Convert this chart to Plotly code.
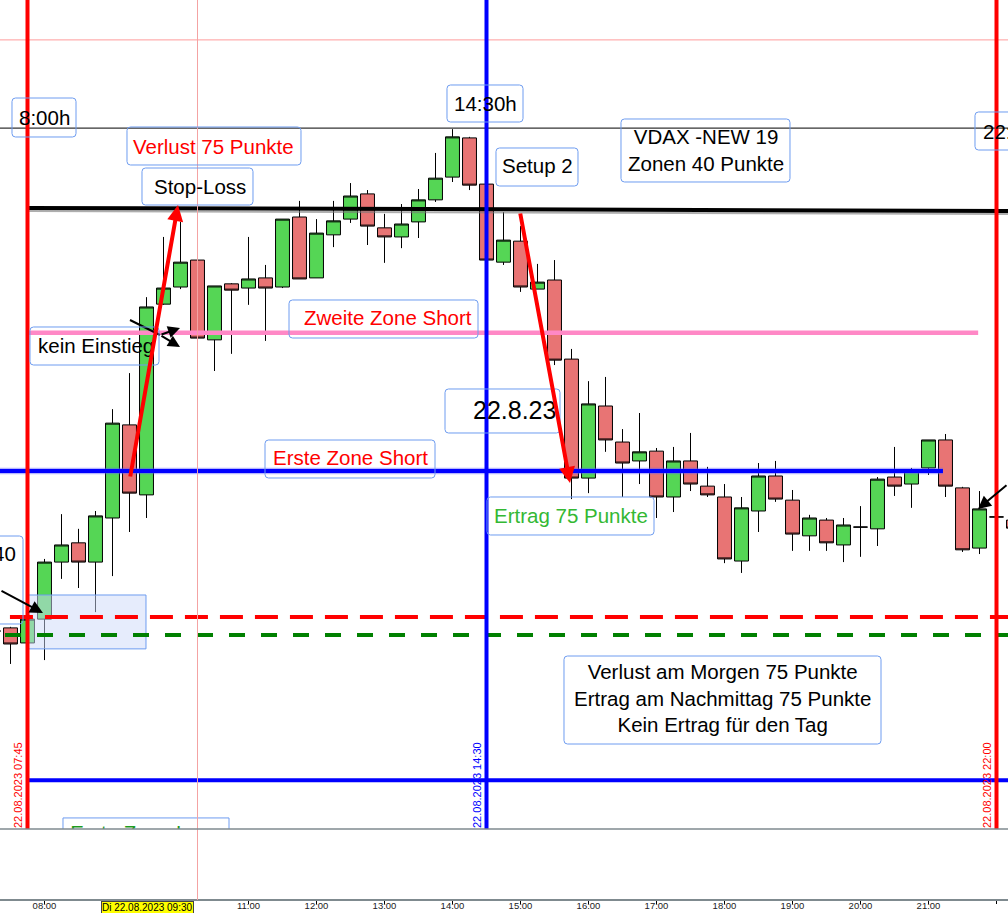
import plotly.graph_objects as go
import pandas as pd

# ---------------- data (15-minute candles, 22.08.2023) ----------------
times = list(pd.date_range("2023-08-22 07:15", periods=61, freq="15min"))

open_ = [15879.7, 15880.6, 15876.3, 15883.1, 15899.4, 15904.9, 15899.4, 15912.0, 15938.6, 15918.6,
         15973.1, 15978.0, 15985.7, 15962.9, 15978.9, 15977.7, 15980.6, 15978.0, 15998.0, 15980.6,
         15992.9, 15997.4, 16004.6, 15994.9, 15992.3, 15996.6, 16002.9, 16009.4, 16020.6, 16007.4,
         15985.1, 15991.1, 15977.4, 15980.0, 15957.4, 15923.4, 15944.0, 15933.7, 15928.3, 15931.1,
         15918.0, 15928.3, 15921.1, 15918.0, 15899.7, 15914.0, 15924.0, 15917.1, 15906.9, 15911.4,
         15904.3, 15909.4, 15908.9, 15923.7, 15921.7, 15926.3, 15934.3, 15920.6, 15903.4, 15912.3,
         15911.4]
high_ = [15879.7, 15880.9, 15883.1, 15900.3, 15913.1, 15908.9, 15914.0, 15943.1, 15953.4, 15975.1,
         15992.3, 15996.6, 15990.9, 15978.3, 15979.1, 15992.3, 15984.3, 15997.4, 16002.6, 15997.4,
         16002.6, 16007.7, 16005.7, 15998.9, 16001.7, 16006.0, 16016.3, 16023.1, 16020.9, 16007.4,
         15999.4, 15995.4, 15984.6, 15985.7, 15960.3, 15951.1, 15952.3, 15937.4, 15942.0, 15932.0,
         15932.3, 15936.3, 15926.6, 15921.7, 15918.0, 15927.7, 15928.3, 15920.0, 15912.9, 15912.0,
         15912.0, 15915.4, 15923.7, 15932.3, 15926.3, 15934.3, 15936.0, 15920.9, 15919.7, 15912.3,
         15912.0]
low_ = [15879.7, 15870.3, 15875.7, 15871.4, 15894.6, 15892.0, 15885.1, 15895.4, 15908.0, 15912.0,
        15972.9, 15977.4, 15960.0, 15954.0, 15958.9, 15972.9, 15962.6, 15977.7, 15980.3, 15980.6,
        15989.4, 15996.3, 15990.0, 15984.9, 15989.1, 15992.0, 16002.3, 16008.0, 16005.7, 15985.7,
        15984.3, 15976.6, 15977.4, 15955.7, 15917.4, 15919.1, 15930.9, 15918.0, 15921.7, 15912.0,
        15913.7, 15919.7, 15918.0, 15899.1, 15896.3, 15908.0, 15916.6, 15902.6, 15902.6, 15902.6,
        15899.4, 15900.9, 15904.0, 15918.3, 15914.9, 15924.3, 15918.0, 15902.3, 15901.7, 15912.3,
        15908.6]
close_ = [15879.7, 15876.0, 15883.1, 15899.4, 15904.3, 15899.4, 15912.6, 15939.1, 15919.1, 15972.3,
          15977.7, 15985.1, 15963.4, 15978.3, 15977.1, 15980.3, 15977.7, 15997.4, 15980.3, 15993.4,
          15996.9, 16004.0, 15995.4, 15992.3, 15996.0, 16002.9, 16009.1, 16020.9, 16007.1, 15985.7,
          15991.4, 15978.0, 15979.4, 15957.1, 15923.4, 15944.6, 15934.3, 15927.7, 15930.9, 15918.0,
          15928.3, 15921.7, 15918.6, 15900.3, 15914.9, 15924.0, 15917.4, 15907.4, 15912.0, 15904.9,
          15910.0, 15909.4, 15923.1, 15921.1, 15925.4, 15934.3, 15921.1, 15902.9, 15914.6, 15912.3,
          15909.1]

# price levels drawn on the chart
thin_red_level = 16048.6
thin_black_level = 16023.4
stop_loss_level = [16000.6, 15999.7]
zone2_short = 15964.9
zone1_short = 15925.4
red_dash_level = 15883.7
green_dash_level = 15878.6
bottom_level = 15837.1
entry_box_prices = [15874.6, 15890.0]

# time markers
t_start = "2023-08-22 07:45"
t_setup = "2023-08-22 14:30"
t_end = "2023-08-22 22:00"
t_cross = "2023-08-22 10:15"

tick_vals = ["2023-08-22 %02d:00" % h for h in range(8, 23)] + ["2023-08-22 09:30"]
tick_text = ["08:00", "", "", "11:00", "12:00", "13:00", "14:00", "15:00", "16:00", "17:00",
             "18:00", "19:00", "20:00", "21:00", "22:00", ""]

x_range = ["2023-08-22 07:20:44", "2023-08-22 22:10:09"]
y_range = [15823.14, 16060.0]
x_far = "2023-08-22 23:00"

# ---------------- layout helpers ----------------
W, H = 1008, 913
PLOT_H = 900
PANE_B = 829
FONT = "Arial, Liberation Sans, sans-serif"


def fx(p):
    return p / W


def fy(p):
    return 1 - p / PLOT_H


def rbox(x0, y0, x1, y1, r=3.5):
    def P(x, y):
        return "%.5f,%.5f" % (fx(x), fy(y))
    path = ("M" + P(x0 + r, y0) + " L" + P(x1 - r, y0) + " Q" + P(x1, y0) + " " + P(x1, y0 + r) +
            " L" + P(x1, y1 - r) + " Q" + P(x1, y1) + " " + P(x1 - r, y1) +
            " L" + P(x0 + r, y1) + " Q" + P(x0, y1) + " " + P(x0, y1 - r) +
            " L" + P(x0, y0 + r) + " Q" + P(x0, y0) + " " + P(x0 + r, y0) + " Z")
    return dict(type="path", xref="paper", yref="paper", path=path,
                line=dict(color="#6e9cf0", width=1), fillcolor="rgba(0,0,0,0)", layer="above")


fig = go.Figure()
fig.add_trace(go.Candlestick(
    x=times, open=open_, high=high_, low=low_, close=close_,
    increasing=dict(fillcolor="#55d655", line=dict(color="black", width=1)),
    decreasing=dict(fillcolor="#e87474", line=dict(color="black", width=1)),
    whiskerwidth=0, showlegend=False, hoverinfo="skip"))

# clipped text of the box below the pane
fig.add_trace(go.Scatter(x=["2023-08-22 09:29:30"], y=[15821.6], mode="text",
                         text=["Erste Zone Long"], textfont=dict(color="#1f9a1f", size=20.5, family=FONT),
                         cliponaxis=True, showlegend=False, hoverinfo="skip"))

shapes = []
def hline(x0, x1, y0, y1, color, width, dash="solid"):
    shapes.append(dict(type="line", xref="x", yref="y", x0=x0, x1=x1, y0=y0, y1=y1,
                       line=dict(color=color, width=width, dash=dash), layer="above"))

def vline(x, color, width, top=True):
    shapes.append(dict(type="line", xref="x", yref="paper", x0=x, x1=x,
                       y0=fy(PANE_B) if top else 0, y1=1,
                       line=dict(color=color, width=width), layer="above"))

# entry area rectangle (under the lines)
shapes.append(dict(type="rect", xref="x", yref="y", x0="2023-08-22 07:45:28", x1="2023-08-22 09:29:33",
                   y0=entry_box_prices[0], y1=entry_box_prices[1],
                   fillcolor="rgba(205,218,250,0.5)", line=dict(color="#6e9cf0", width=1), layer="above"))
shapes.append(dict(type="rect", xref="x", yref="y", x0="2023-08-22 08:16:19", x1="2023-08-22 10:42:48",
                   y0=15815.4, y1=15826.3, fillcolor="rgba(0,0,0,0)",
                   line=dict(color="#6e9cf0", width=1), layer="above"))

hline(x_range[0], x_far, thin_red_level, thin_red_level, "#ff9b9b", 1)
hline(x_range[0], x_far, thin_black_level, thin_black_level, "black", 1)
hline(t_start, x_far, stop_loss_level[0] - 0.9, stop_loss_level[1] - 0.9, "rgba(120,120,120,0.6)", 2)
hline(t_start, x_far, stop_loss_level[0], stop_loss_level[1], "black", 4)
hline(t_start, "2023-08-22 21:43:50", zone2_short, zone2_short, "#ff88c6", 4.5)
hline(x_range[0], "2023-08-22 21:12:45", zone1_short, zone1_short, "rgba(90,90,255,0.45)", 6.5)
hline(x_range[0], "2023-08-22 21:12:45", zone1_short, zone1_short, "#0000ff", 4)
hline("2023-08-22 07:29:30", x_far, red_dash_level, red_dash_level, "#ff0000", 4, "23px,12px")
hline("2023-08-22 07:25:09", x_far, green_dash_level, green_dash_level, "#008000", 4, "16px,16px")
hline(t_start, x_far, bottom_level, bottom_level, "#0000ff", 4)

vline(t_cross, "#f4a3a3", 1, top=False)
vline(t_start, "#ff0000", 4)
vline(t_setup, "#0000ff", 4)
vline(t_end, "#ff0000", 4)

# pane separator
shapes.append(dict(type="line", xref="paper", yref="paper", x0=0, x1=1, y0=fy(PANE_B), y1=fy(PANE_B),
                   line=dict(color="#7f8a8f", width=1.5)))
# small connector line of the "kein Einstieg" arrows
shapes.append(dict(type="line", xref="paper", yref="paper", x0=fx(130), x1=fx(160), y0=fy(320), y1=fy(335),
                   line=dict(color="black", width=2)))

boxes = [(12, 98, 76, 137), (127, 127, 301, 165), (142, 168, 253, 205), (30, 327, 159, 365),
         (-20, 536, 23, 624), (447, 85, 523, 122), (496, 148, 578, 186), (621, 119, 790, 182),
         (975, 112, 1060, 150), (289, 300, 478, 338), (445, 389, 560, 433), (265, 440, 435, 478),
         (487, 497, 654, 535), (564, 656, 881, 744)]
for b in boxes:
    shapes.append(rbox(*b))

ann = []
def txt(x, y, s, color="black", size=20.5, xanchor="center", **kw):
    ann.append(dict(x=fx(x), y=fy(y), xref="paper", yref="paper", text=s, showarrow=False,
                    xanchor=xanchor, yanchor="middle", font=dict(family=FONT, size=size, color=color), **kw))

txt(44, 117, "8:00h")
txt(213.5, 146, "Verlust 75 Punkte", "#ff0000")
txt(200, 186, "Stop-Loss")
txt(95.5, 346, "kein Einstieg")
txt(18, 553, "40", xanchor="right")
txt(485, 103, "14:30h")
txt(537.5, 166, "Setup 2")
txt(705.5, 150, "VDAX -NEW 19<br>Zonen 40 Punkte")
txt(981, 131, "22:00h", xanchor="left")
txt(387.5, 318, "Zweite Zone Short", "#ff0000")
txt(514, 410, "22.8.23", size=25)
txt(350, 458, "Erste Zone Short", "#ff0000")
txt(571, 515, "Ertrag 75 Punkte", "#33b833")
txt(722, 698, "Verlust am Morgen 75 Punkte<br>Ertrag am Nachmittag 75 Punkte<br>Kein Ertrag für den Tag")

for xx, s, c in [(18, "22.08.2023 07:45", "#ff0000"), (477, "22.08.2023 14:30", "#0000ff"),
                 (987, "22.08.2023 22:00", "#ff0000")]:
    ann.append(dict(x=fx(xx), y=fy(785), xref="paper", yref="paper", text=s, showarrow=False,
                    textangle=-90, xanchor="center", yanchor="middle",
                    font=dict(family=FONT, size=11, color=c)))

ann.append(dict(x=fx(147), y=fy(900.5), xref="paper", yref="paper", text="Di 22.08.2023 09:30",
                showarrow=False, xanchor="center", yanchor="top", bgcolor="#ffff00",
                bordercolor="#444", borderwidth=1, borderpad=0,
                font=dict(family=FONT, size=10, color="black")))

def arrow(xt, yt, xs, ys, color, width, size, head=2):
    ann.append(dict(x=fx(xt), y=fy(yt), xref="paper", yref="paper", ax=xs - xt, ay=ys - yt,
                    text="", showarrow=True, arrowhead=head, arrowsize=size, arrowwidth=width,
                    arrowcolor=color, standoff=0, startstandoff=0))

arrow(178, 205, 130, 478, "#ff0000", 4, 0.8)
arrow(570, 483, 520, 212, "#ff0000", 4, 0.8)
arrow(43, 613, -2, 590, "black", 2, 1.3)
arrow(978, 509, 1012, 484, "black", 2, 1.3)
arrow(180, 328, 160, 335, "black", 2, 1.2)
arrow(180, 347, 160, 335, "black", 2, 1.2)

fig.update_layout(
    width=W, height=H, margin=dict(l=0, r=0, t=0, b=H - PLOT_H),
    paper_bgcolor="white", plot_bgcolor="white",
    shapes=shapes, annotations=ann, showlegend=False,
    boxgap=0.1, boxgroupgap=0.09,
    xaxis=dict(type="date", range=x_range, rangeslider=dict(visible=False), anchor="free", position=0,
               tickvals=tick_vals, ticktext=tick_text, ticks="outside", ticklen=3, tickcolor="black",
               ticklabelstandoff=-6,
               tickfont=dict(family=FONT, size=9.5, color="#222"), showgrid=False, zeroline=False,
               showline=True, linecolor="#7f8a8f", linewidth=1.5, automargin=False),
    yaxis=dict(range=y_range, domain=[fy(PANE_B), 1], showticklabels=False, showgrid=False,
               zeroline=False, ticks="", automargin=False),
)

fig.write_html("out.html", config={"displayModeBar": False},
               post_script="document.body.style.margin='0';")
